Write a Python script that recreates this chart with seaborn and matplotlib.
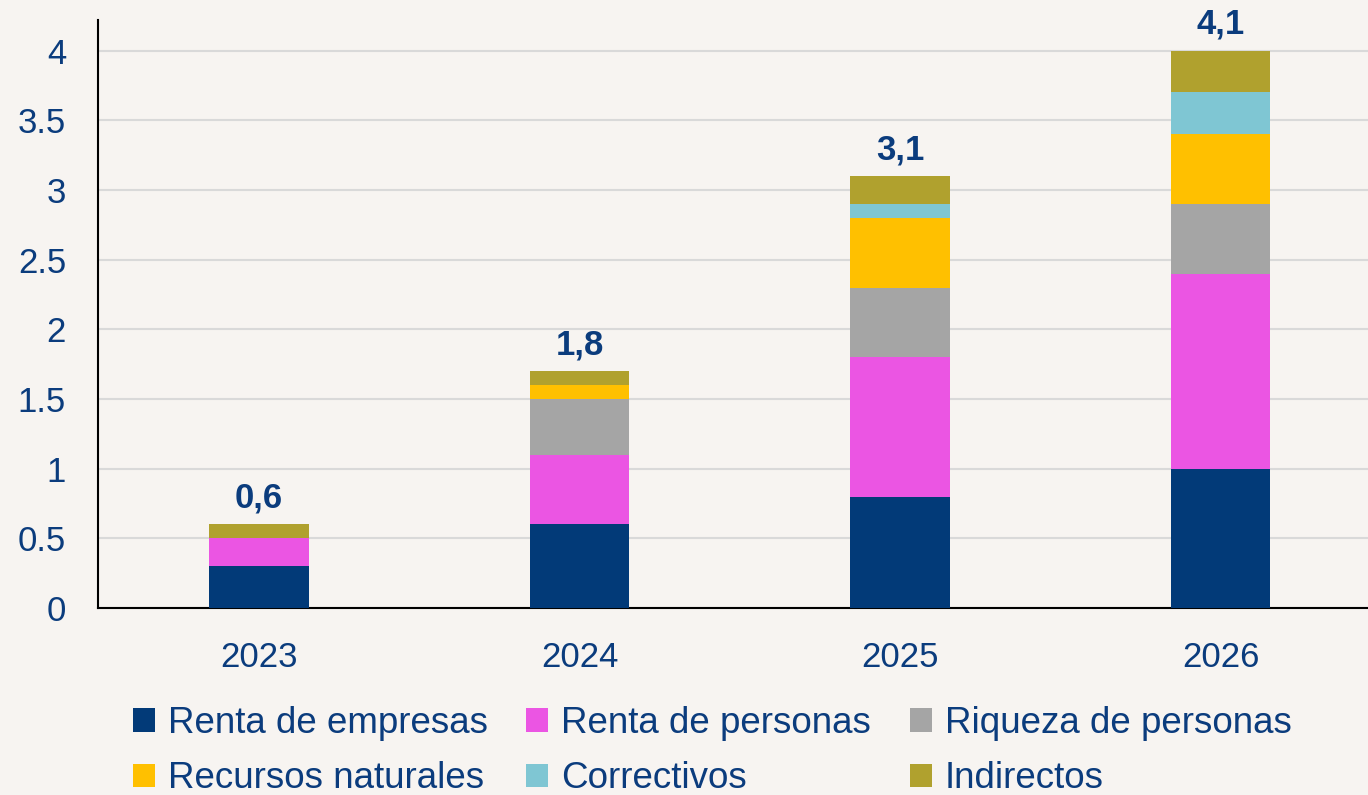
import numpy as np
import pandas as pd
import matplotlib
matplotlib.use("Agg")
import matplotlib.pyplot as plt
import seaborn as sns
from matplotlib.patches import Patch

# Datos (billones de pesos, por año)
years = ["2023", "2024", "2025", "2026"]
renta_empresas = [0.3, 0.6, 0.8, 1.0]
renta_personas = [0.2, 0.5, 1.0, 1.4]
riqueza_personas = [0.0, 0.4, 0.5, 0.5]
recursos_naturales = [0.0, 0.1, 0.5, 0.5]
correctivos = [0.0, 0.0, 0.1, 0.3]
indirectos = [0.1, 0.1, 0.2, 0.3]
total_labels = ["0,6", "1,8", "3,1", "4,1"]

series_names = ["Renta de empresas", "Renta de personas", "Riqueza de personas",
                "Recursos naturales", "Correctivos", "Indirectos"]
series_vals = [renta_empresas, renta_personas, riqueza_personas,
               recursos_naturales, correctivos, indirectos]
colors = ["#023A78", "#EB55E3", "#A5A5A5", "#FFC000", "#7FC6D3", "#B0A12E"]

bg = "#F7F4F1"
txt = "#0B3C7D"

sns.set_style("white")
plt.rcParams["font.family"] = ["Liberation Sans", "DejaVu Sans"]

df = pd.DataFrame(dict(zip(series_names, series_vals)), index=years)
cum = df.cumsum(axis=1)

fig = plt.figure(figsize=(13.68, 7.95), dpi=100)
fig.patch.set_facecolor(bg)
ax = fig.add_axes([0.0716, 0.2352, 0.9284, 0.7396])
ax.set_facecolor(bg)

# barras apiladas: dibujar acumulados de arriba hacia abajo
for name, color in reversed(list(zip(series_names, colors))):
    sns.barplot(x=years, y=cum[name].values, color=color, width=0.31,
                saturation=1, linewidth=0, ax=ax, zorder=3)

ax.set_ylim(0, 4.22)
ax.set_xlim(-0.503, 3.46)
ax.set_yticks(np.arange(0, 4.01, 0.5))
ax.set_yticklabels(["0", "0.5", "1", "1.5", "2", "2.5", "3", "3.5", "4"])
ax.yaxis.grid(True, color="#D9D9D9", lw=1.5, zorder=0)
ax.set_axisbelow(True)
ax.tick_params(axis="both", length=0, labelsize=25, labelcolor=txt)
ax.tick_params(axis="x", pad=24)
ax.tick_params(axis="y", pad=23)
ax.set_xlabel("")
ax.set_ylabel("")
for s in ["top", "right"]:
    ax.spines[s].set_visible(False)
for s in ["left", "bottom"]:
    ax.spines[s].set_color("black")
    ax.spines[s].set_linewidth(1.5)

totals = cum.iloc[:, -1].values
for i, (t, lab) in enumerate(zip(totals, total_labels)):
    ax.annotate(lab, (i, t), xytext=(0, 7), textcoords="offset points",
                ha="center", va="bottom", fontsize=25, fontweight="bold",
                color=txt)

# leyenda por filas (3 columnas)
order = [0, 3, 1, 4, 2, 5]
handles = [Patch(facecolor=colors[k], edgecolor="none") for k in order]
labels = [series_names[k] for k in order]
fig.legend(handles, labels, loc="upper left", ncol=3,
           bbox_to_anchor=(0.097, 0.112), frameon=False, fontsize=26.5,
           labelcolor=txt, handlelength=0.6, handleheight=0.6,
           handletextpad=0.35, columnspacing=1.05, labelspacing=0.55,
           borderaxespad=0, borderpad=0)

fig.savefig("out.png", dpi=100, facecolor=bg)
